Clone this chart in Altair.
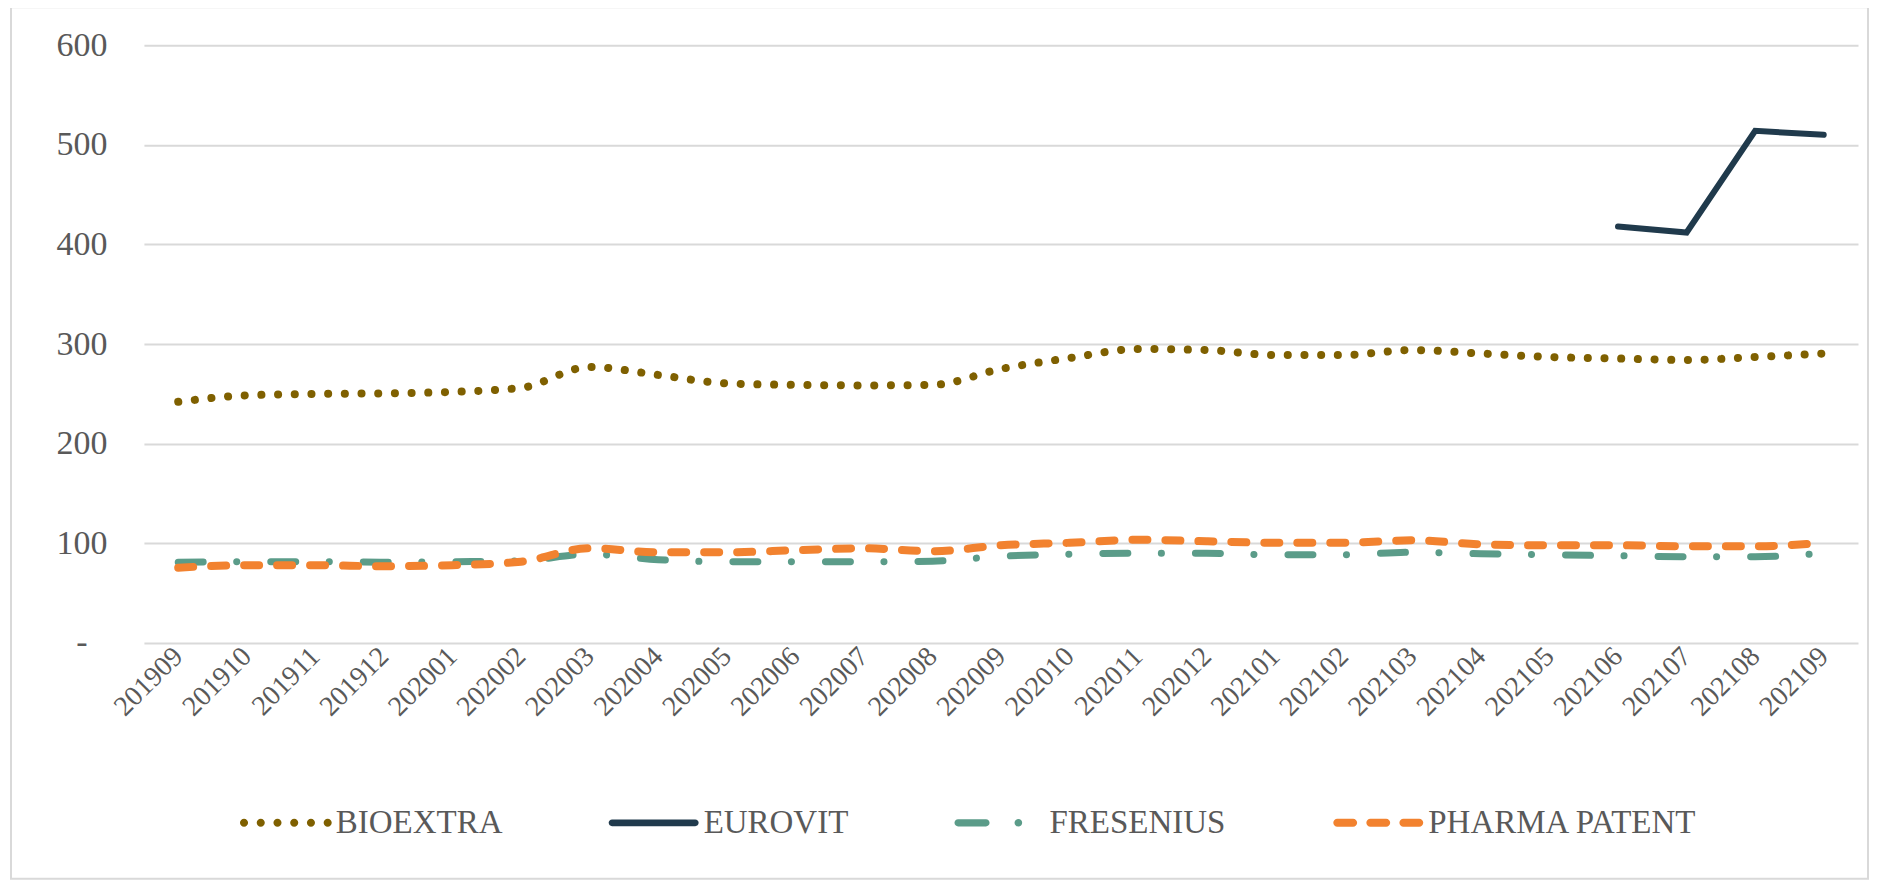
import altair as alt
import pandas as pd

# ---------------- data ----------------
months = ["201909", "201910", "201911", "201912", "202001", "202002", "202003",
          "202004", "202005", "202006", "202007", "202008", "202009", "202010",
          "202011", "202012", "202101", "202102", "202103", "202104", "202105",
          "202106", "202107", "202108", "202109"]
companies = ["BIOEXTRA", "EUROVIT", "FRESENIUS", "PHARMA PATENT"]

bioextra = [242, 248.5, 250, 250.5, 252, 256, 277, 269, 260.5, 259, 258.5, 259,
            275, 286, 295, 294, 289, 289, 294, 290.5, 287, 285.5, 284, 287, 290.5]
eurovit_months = ["202106", "202107", "202108", "202109"]
eurovit = [418, 412, 514, 510]
fresenius = [81, 81.5, 81.5, 81, 81.5, 82.5, 89, 83.5, 81.5, 81.5, 81.5, 82,
             87, 89, 90, 90, 88.5, 88.5, 91, 89.5, 88.5, 87.5, 86.5, 86.5, 90]
pharma = [75.5, 78, 78, 77, 78, 81.5, 95, 91, 91, 93, 95, 92, 98, 100.5, 103.5,
          102, 100.5, 100.5, 103, 99, 98, 98, 97, 97, 100.5]

y_ticks = [0, 100, 200, 300, 400, 500, 600]

rows = []
for m, v in zip(months, bioextra):
    rows.append({"month": m, "company": "BIOEXTRA", "value": v})
for m, v in zip(eurovit_months, eurovit):
    rows.append({"month": m, "company": "EUROVIT", "value": v})
for m, v in zip(months, fresenius):
    rows.append({"month": m, "company": "FRESENIUS", "value": v})
for m, v in zip(months, pharma):
    rows.append({"month": m, "company": "PHARMA PATENT", "value": v})
df = pd.DataFrame(rows)

# ---------------- styles ----------------
colors = ["#7F6000", "#203A4C", "#5B9C89", "#F2822F"]
FONT = "Liberation Serif"
TEXT = "#595959"
GRID = "#D9D9D9"


def circle(cx, r):
    return (f"M{cx - r:.3f},0A{r},{r} 0 1,0 {cx + r:.3f},0"
            f"A{r},{r} 0 1,0 {cx - r:.3f},0Z")


def pill(x0, x1, h):
    return (f"M{x0 + h:.3f},{-h}L{x1 - h:.3f},{-h}A{h},{h} 0 0,1 {x1 - h:.3f},{h}"
            f"L{x0 + h:.3f},{h}A{h},{h} 0 0,1 {x0 + h:.3f},{-h}Z")


shape_bio = "".join(circle(-0.93 + k * 0.372, 0.09) for k in range(6))
shape_euro = pill(-1.0, 1.0, 0.075)
shape_fres = pill(-1.0, -0.22, 0.08) + circle(0.42, 0.085)
shape_pharma = pill(-1.0, -0.47, 0.09) + pill(-0.265, 0.265, 0.09) + pill(0.47, 1.0, 0.09)
shapes = [shape_bio, shape_euro, shape_fres, shape_pharma]

line_styles = {
    "BIOEXTRA": dict(strokeWidth=8, strokeDash=[0.1, 16.6], interpolate="monotone"),
    "EUROVIT": dict(strokeWidth=6, strokeJoin="miter", interpolate="linear"),
    "FRESENIUS": dict(strokeWidth=7, strokeDash=[25, 33.5, 0.1, 34], interpolate="monotone"),
    "PHARMA PATENT": dict(strokeWidth=8, strokeDash=[15, 18], interpolate="monotone"),
}

# ---------------- encodings ----------------
x_enc = alt.X(
    "month:O",
    sort=months,
    scale=alt.Scale(domain=months, type="point", padding=0.5),
    axis=alt.Axis(title=None, labelAngle=-45, labelAlign="right", labelBaseline="middle",
                  labelFontSize=28, labelPadding=9, grid=False, domain=False, ticks=False,
                  labelFont=FONT, labelColor=TEXT, labelOverlap=False),
)
y_enc = alt.Y(
    "value:Q",
    scale=alt.Scale(domain=[0, 600], nice=False, zero=True),
    axis=alt.Axis(title=None, values=y_ticks, grid=True, gridColor=GRID, gridWidth=2,
                  domain=False, ticks=False, labelFontSize=34,
                  labelPadding={"condition": {"test": "datum.value == 0", "value": 57},
                                "value": 37},
                  labelFont=FONT, labelColor=TEXT,
                  labelExpr="datum.value == 0 ? '-' : datum.label"),
)

base = alt.Chart(df)

frame = alt.Chart(pd.DataFrame({"k": [0]})).mark_rect(
    fill="#ffffff", fillOpacity=0, stroke=GRID, strokeWidth=2
).encode(
    x=alt.value(-133), x2=alt.value(1725), y=alt.value(-38), y2=alt.value(834)
)

lines = []
for c, col in zip(companies, colors):
    st = line_styles[c]
    lines.append(
        base.transform_filter(alt.datum.company == c)
        .mark_line(color=col, strokeCap="round", **st)
        .encode(x=x_enc, y=y_enc)
    )

legend = alt.Legend(
    title=None, orient="none", legendX=97, legendY=733, direction="horizontal",
    symbolSize=8100, symbolStrokeWidth=0, symbolOpacity=1,
    labelFont=FONT, labelFontSize=33, labelColor=TEXT, labelOffset=5,
    labelLimit=400, columnPadding=106, padding=0,
)

legend_layer = base.transform_filter("datum.value < 0").mark_point(filled=True).encode(
    x=x_enc,
    y=y_enc,
    color=alt.Color("company:N", scale=alt.Scale(domain=companies, range=colors), legend=legend),
    shape=alt.Shape("company:N", scale=alt.Scale(domain=companies, range=shapes), legend=legend),
)

chart = alt.layer(frame, *lines, legend_layer).properties(
    width=1715,
    height=598,
    padding={"left": 136, "top": 37, "right": 11, "bottom": 237},
    autosize=alt.AutoSizeParams(type="none"),
    background="#ffffff",
).configure_view(strokeWidth=0)

chart.save("out.html", embed_options={"renderer": "svg", "actions": False})
